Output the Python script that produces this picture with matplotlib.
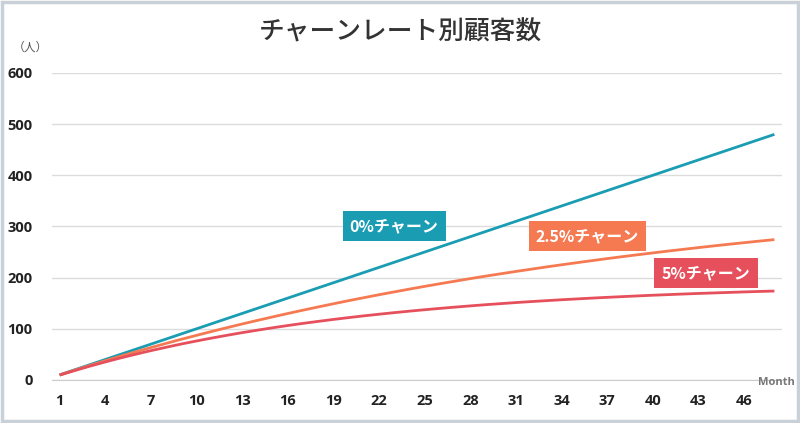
import matplotlib
matplotlib.use("Agg")
import matplotlib.pyplot as plt
from matplotlib.patches import Rectangle

plt.rcParams['font.family'] = ['Noto Sans CJK JP', 'DejaVu Sans']

months = list(range(1, 49))

churn_0 = [10, 20, 30, 40, 50, 60, 70, 80, 90, 100, 110, 120, 130, 140, 150, 160,
           170, 180, 190, 200, 210, 220, 230, 240, 250, 260, 270, 280, 290, 300, 310, 320,
           330, 340, 350, 360, 370, 380, 390, 400, 410, 420, 430, 440, 450, 460, 470, 480]
churn_25 = [9.8, 19.3, 28.5, 37.6, 46.4, 55.0, 63.3, 71.5, 79.5, 87.2, 94.8, 102.2,
            109.4, 116.4, 123.2, 129.9, 136.4, 142.7, 148.9, 155.0, 160.8, 166.6, 172.1, 177.6,
            182.9, 188.1, 193.1, 198.1, 202.9, 207.5, 212.1, 216.5, 220.9, 225.1, 229.2, 233.2,
            237.2, 241.0, 244.7, 248.3, 251.9, 255.3, 258.7, 262.0, 265.2, 268.3, 271.4, 274.3]
churn_5 = [9.5, 18.5, 27.1, 35.2, 43.0, 50.3, 57.3, 63.9, 70.3, 76.2, 81.9, 87.3,
           92.5, 97.3, 102.0, 106.4, 110.6, 114.5, 118.3, 121.9, 125.3, 128.5, 131.6, 134.5,
           137.3, 139.9, 142.4, 144.8, 147.1, 149.2, 151.3, 153.2, 155.0, 156.8, 158.4, 160.0,
           161.5, 162.9, 164.3, 165.6, 166.8, 168.0, 169.1, 170.1, 171.1, 172.1, 173.0, 173.8]

series_labels = ["0%チャーン", "2.5%チャーン", "5%チャーン"]
series_colors = ["#1a9db3", "#f57a52", "#e6505c"]
# where each series label sits (month, value)
label_pos = [(23.0, 301), (35.7, 281), (43.5, 209)]

x_ticks = list(range(1, 48, 3))
y_ticks = [0, 100, 200, 300, 400, 500, 600]

fig = plt.figure(figsize=(8, 4.23), dpi=100)
fig.patch.set_facecolor("white")
fig.patches.append(Rectangle((0.002, 0.004), 0.996, 0.992, transform=fig.transFigure,
                             fill=False, edgecolor="#c9d0d8", linewidth=2.5))

ax = fig.add_axes([0.065, 0.1017, 0.9125, 0.7258])

for values, color in zip([churn_0, churn_25, churn_5], series_colors):
    ax.plot(months, values, color=color, linewidth=2.0, solid_capstyle="butt", zorder=3)

for (mx, my), text, color in zip(label_pos, series_labels, series_colors):
    ax.text(mx, my, text, ha="center", va="center", fontsize=11.5, fontweight="bold",
            color="white", zorder=4,
            bbox=dict(boxstyle="square,pad=0.45", facecolor=color, edgecolor="none"))

ax.set_xlim(0.5, 48.5)
ax.set_ylim(0, 600)
ax.set_xticks(x_ticks)
ax.set_yticks(y_ticks)
ax.grid(axis="y", color="#dcdcdc", linewidth=1)
ax.set_axisbelow(True)
for side in ["top", "right", "left"]:
    ax.spines[side].set_visible(False)
ax.spines["bottom"].set_color("#cccccc")
ax.tick_params(axis="both", length=0, labelsize=10.5, colors="#222222")
ax.tick_params(axis="x", pad=10)
ax.tick_params(axis="y", pad=14)
for lbl in ax.get_xticklabels() + ax.get_yticklabels():
    lbl.set_fontweight("bold")
    lbl.set_family(["Open Sans", "DejaVu Sans"])

fig.text(0.5, 0.925, "チャーンレート別顧客数", ha="center", va="center",
         fontsize=18.5, color="#333333", fontweight="medium")
fig.text(0.038, 0.888, "（人）", ha="center", va="center", fontsize=8.5, color="#555555")
fig.text(0.993, 0.095, "Month", ha="right", va="center", fontsize=8, color="#777777",
         fontweight="bold", family=["Open Sans", "DejaVu Sans"])

fig.savefig("out.png", dpi=100)
